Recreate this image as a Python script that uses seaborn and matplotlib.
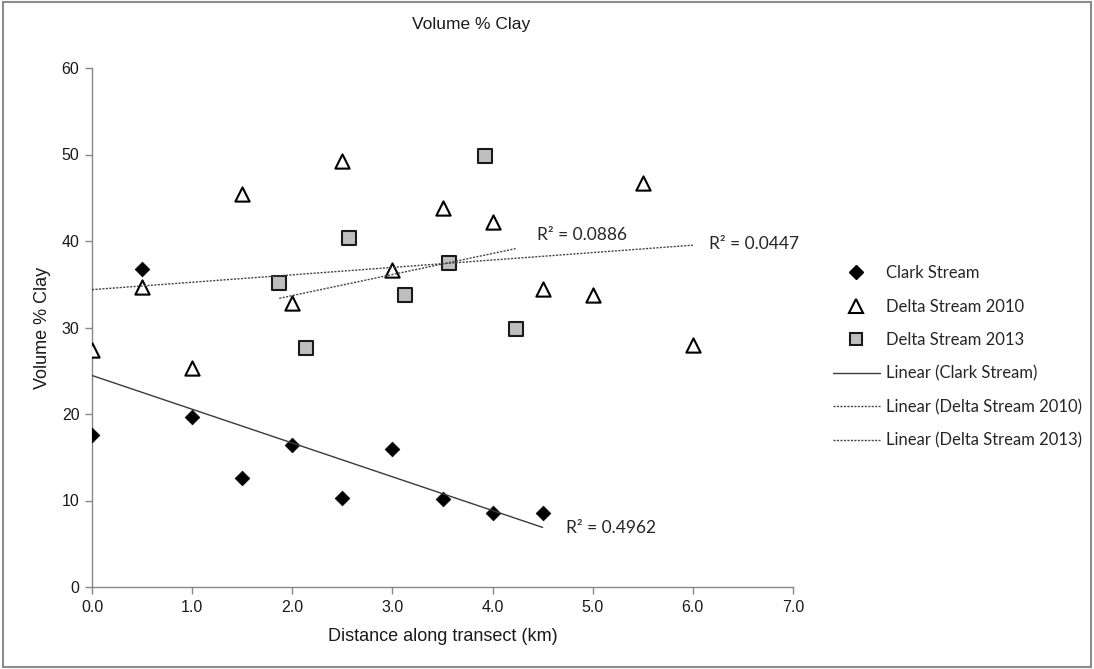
import numpy as np
import pandas as pd
import matplotlib
matplotlib.use("Agg")
import matplotlib.pyplot as plt
from matplotlib.lines import Line2D
from matplotlib.patches import Rectangle
import seaborn as sns

# ---- data ----
clark_x = [0.0, 0.5, 1.0, 1.5, 2.0, 2.5, 3.0, 3.5, 4.0, 4.5]
clark_y = [17.6, 36.8, 19.7, 12.6, 16.4, 10.3, 15.9, 10.2, 8.6, 8.6]

delta2010_x = [0.0, 0.5, 1.0, 1.5, 2.0, 2.5, 3.0, 3.5, 4.0, 4.5, 5.0, 5.5, 6.0]
delta2010_y = [27.4, 34.7, 25.3, 45.4, 32.8, 49.2, 36.6, 43.8, 42.2, 34.4, 33.8, 46.7, 28.0]

delta2013_x = [1.87, 2.14, 2.57, 3.13, 3.56, 3.92, 4.23]
delta2013_y = [35.1, 27.6, 40.4, 33.7, 37.5, 49.8, 29.8]

series_names = ["Clark Stream", "Delta Stream 2010", "Delta Stream 2013"]
r2_labels = ["R\u00b2 = 0.4962", "R\u00b2 = 0.0447", "R\u00b2 = 0.0886"]
r2_pos = [(4.73, 6.8), (6.16, 39.7), (4.44, 40.7)]

x_ticks = [0, 1, 2, 3, 4, 5, 6, 7]
x_ticklabels = ["0.0", "1.0", "2.0", "3.0", "4.0", "5.0", "6.0", "7.0"]
y_ticks = [0, 10, 20, 30, 40, 50, 60]

# ---- style ----
sns.set_style("white")
plt.rcParams["font.family"] = ["Liberation Sans", "DejaVu Sans"]
calibri_like = ["Lato", "DejaVu Sans"]
txt_color = "#1a1a1a"
axis_color = "#878787"

fig = plt.figure(figsize=(10.94, 6.69), dpi=100)
ax = fig.add_axes([92 / 1094, 1 - 587 / 669, (793 - 92) / 1094, (587 - 68) / 669])

df_c = pd.DataFrame({"x": clark_x, "y": clark_y})
df_a = pd.DataFrame({"x": delta2010_x, "y": delta2010_y})
df_b = pd.DataFrame({"x": delta2013_x, "y": delta2013_y})

# markers
sns.scatterplot(data=df_c, x="x", y="y", marker="D", s=56, color="black",
                edgecolor="black", linewidth=0.5, ax=ax, zorder=3, legend=False)
sns.scatterplot(data=df_a, x="x", y="y", marker="^", s=105, color="white",
                edgecolor="black", linewidth=1.5, ax=ax, zorder=3, legend=False)
sns.scatterplot(data=df_b, x="x", y="y", marker="s", s=88, color="#bfbfbf",
                edgecolor="#1a1a1a", linewidth=1.5, ax=ax, zorder=3, legend=False)

# linear trendlines
sns.regplot(data=df_c, x="x", y="y", scatter=False, ci=None, truncate=True, ax=ax,
            line_kws=dict(color="#3a3a3a", lw=1.0, ls="-", zorder=4))
sns.regplot(data=df_a, x="x", y="y", scatter=False, ci=None, truncate=True, ax=ax,
            line_kws=dict(color="#444444", lw=1.0, ls=(0, (1.5, 1)), zorder=4))
sns.regplot(data=df_b, x="x", y="y", scatter=False, ci=None, truncate=True, ax=ax,
            line_kws=dict(color="#444444", lw=1.0, ls=(0, (1.5, 1)), zorder=4))

for lab, (px, py) in zip(r2_labels, r2_pos):
    ax.text(px, py, lab, ha="left", va="center", fontsize=12.5,
            family=calibri_like, color="#262626")

ax.set_xlim(0, 7)
ax.set_ylim(0, 60)
ax.set_xticks(x_ticks)
ax.set_xticklabels(x_ticklabels)
ax.set_yticks(y_ticks)
ax.tick_params(axis="both", which="both", direction="out", length=5, width=1,
               color=axis_color, labelsize=11.5, labelcolor=txt_color, pad=4,
               left=True, bottom=True)
for side in ["top", "right"]:
    ax.spines[side].set_visible(False)
for side in ["left", "bottom"]:
    ax.spines[side].set_color(axis_color)
    ax.spines[side].set_linewidth(1)
ax.grid(False)

ax.set_xlabel("Distance along transect (km)", fontsize=13, color=txt_color, labelpad=10)
ax.set_ylabel("Volume % Clay", fontsize=13, color=txt_color, labelpad=8)
fig.text(471 / 1094, 1 - 25 / 669, "Volume % Clay", ha="center", va="center",
         fontsize=12.5, color=txt_color)

# legend
handles = [
    Line2D([], [], ls="none", marker="D", markersize=7, color="black"),
    Line2D([], [], ls="none", marker="^", markersize=10, markerfacecolor="white",
           markeredgecolor="black", markeredgewidth=1.5),
    Line2D([], [], ls="none", marker="s", markersize=8.5, markerfacecolor="#bfbfbf",
           markeredgecolor="#1a1a1a", markeredgewidth=1.5),
    Line2D([], [], color="#3a3a3a", lw=1.0, ls="-"),
    Line2D([], [], color="#444444", lw=1.0, ls=(0, (1.5, 1))),
    Line2D([], [], color="#444444", lw=1.0, ls=(0, (1.5, 1))),
]
labels = series_names + ["Linear (" + n + ")" for n in series_names]
leg = fig.legend(handles, labels, loc="upper left",
                 bbox_to_anchor=(833 / 1094, 1 - 265 / 669),
                 frameon=False, borderpad=0, borderaxespad=0,
                 handlelength=2.8, handletextpad=0.4, labelspacing=1.05,
                 prop={"family": calibri_like, "size": 12})
for t in leg.get_texts():
    t.set_color("#262626")

# outer border of the chart area
fig.patches.append(Rectangle((0.003, 0.003), 0.994, 0.994, transform=fig.transFigure,
                             fill=False, edgecolor="#8c8c8c", lw=1.5))

fig.savefig("out.png", dpi=100)
